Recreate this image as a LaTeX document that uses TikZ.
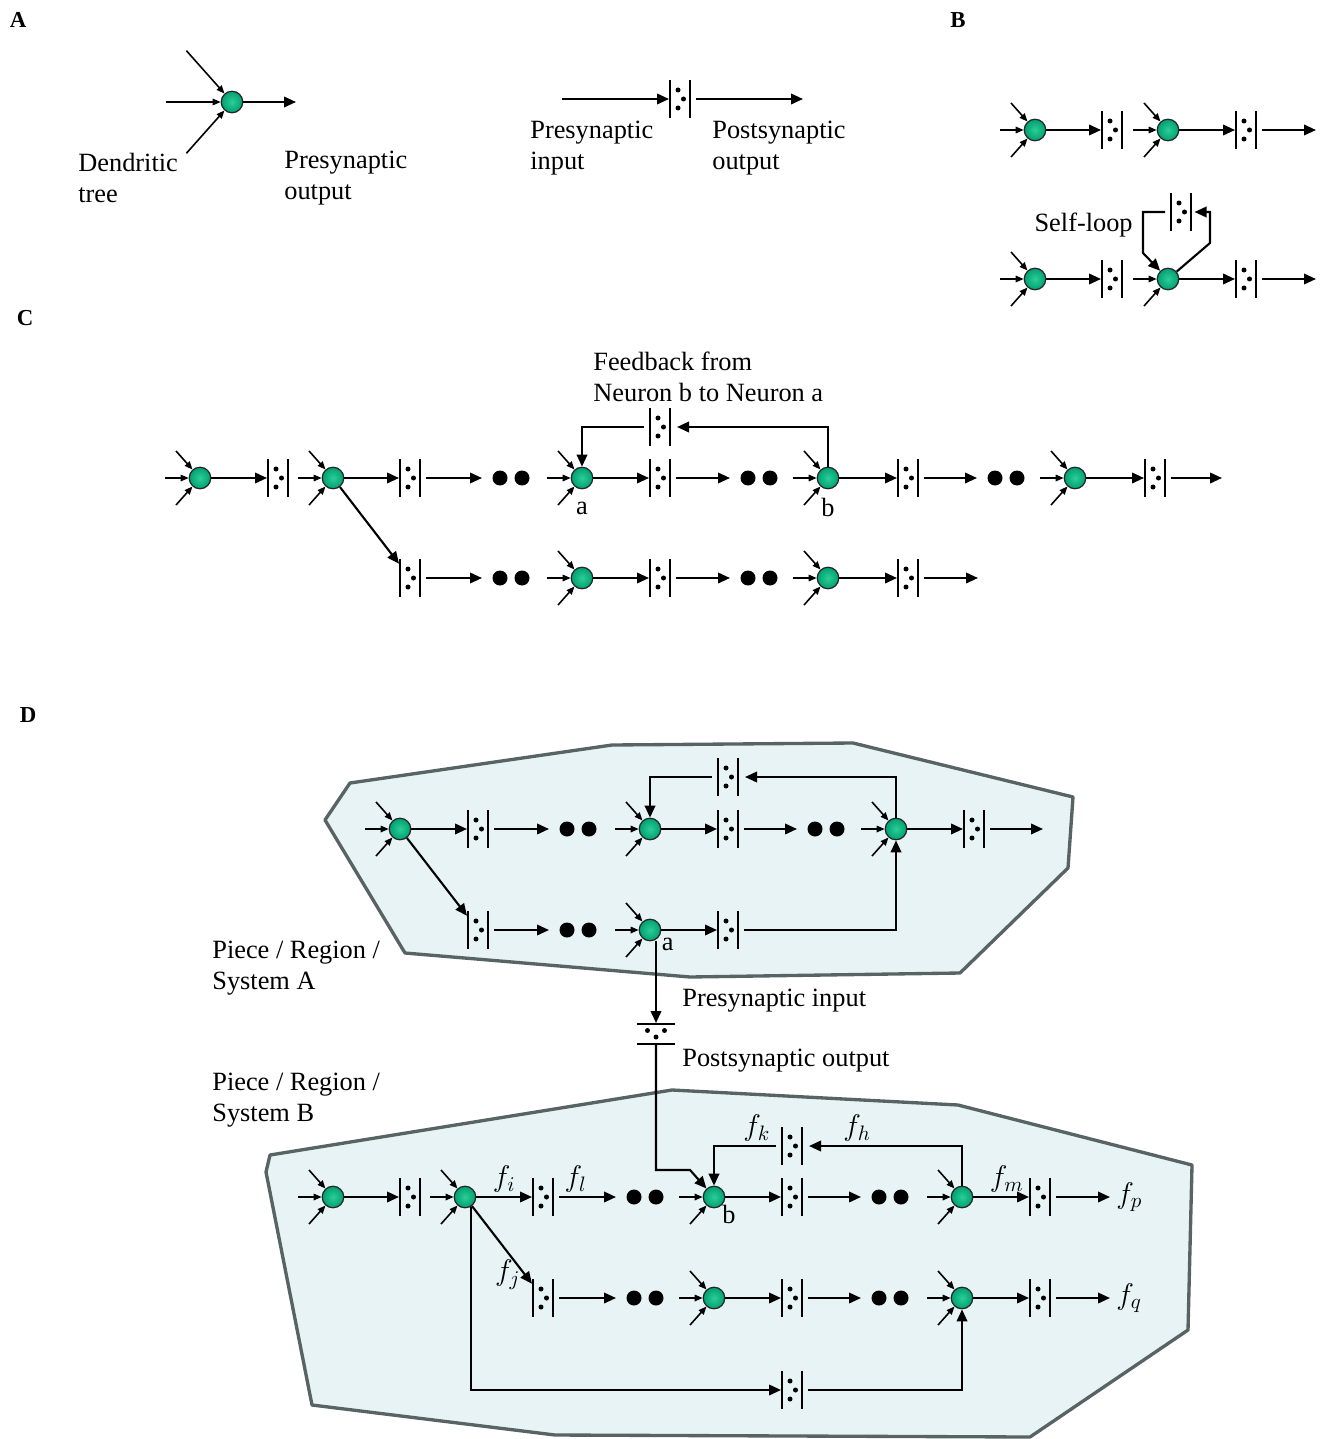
\documentclass[tikz,border=0pt]{standalone}
\usepackage{fix-cm}
\usepackage{amsmath}
\usepackage{fontspec}
\setmainfont{Liberation Serif}
\usepackage{xcolor}
\usepackage{tikz}
\usetikzlibrary{arrows.meta,positioning,calc}

\definecolor{neuronlight}{RGB}{45,205,150}
\definecolor{neuronmid}{RGB}{0,160,115}
\definecolor{neurondark}{RGB}{0,100,72}
\definecolor{regionfill}{RGB}{231,243,245}
\definecolor{regionline}{RGB}{88,100,100}
\pgfdeclareradialshading{neuronshade}{\pgfpoint{0bp}{0bp}}{color(0bp)=(neuronlight); color(25bp)=(neuronmid); color(50bp)=(neurondark)}

\newcommand{\inscale}{1}
\newcommand{\neuron}[3][1]{%
    \node[neuron] (#2) at (#3) {};
    \ifnum#1=1 \draw[inp] ($(#2)+(-24*\inscale,-27*\inscale)$) -- (#2);\fi
    \draw[inp] ($(#2)+(-35*\inscale,0)$) -- (#2);
    \draw[inp] ($(#2)+(-24*\inscale,27*\inscale)$) -- (#2);
}

\begin{document}
\begin{tikzpicture}[
            x=0.02cm, y=-0.02cm,
            >={Triangle[length=0.24cm,width=0.21cm]},
            neuron/.style={circle, minimum size=0.43cm, inner sep=0pt, draw=black!85, line width=0.7pt, shading=neuronshade},
            syn/.style={minimum width=0.44cm, minimum height=0.76cm, inner sep=0pt, outer sep=0pt,
                path picture={
                    \draw[line width=1.1pt] ([xshift=-0.2cm]path picture bounding box.north) -- ([xshift=-0.2cm]path picture bounding box.south)
                        ([xshift=0.2cm]path picture bounding box.north) -- ([xshift=0.2cm]path picture bounding box.south);
                    \fill ([shift={(-0.04cm,0.18cm)}]path picture bounding box.center) circle (0.05cm)
                        ([shift={(-0.04cm,-0.18cm)}]path picture bounding box.center) circle (0.05cm)
                        ([shift={(0.07cm,0cm)}]path picture bounding box.center) circle (0.05cm);
                }},
            vsyn/.style={minimum width=0.76cm, minimum height=0.44cm, inner sep=0pt, outer sep=0pt,
                path picture={
                    \draw[line width=1.1pt] ([yshift=0.2cm]path picture bounding box.west) -- ([yshift=0.2cm]path picture bounding box.east)
                        ([yshift=-0.2cm]path picture bounding box.west) -- ([yshift=-0.2cm]path picture bounding box.east);
                    \fill ([shift={(-0.17cm,0.07cm)}]path picture bounding box.center) circle (0.05cm)
                        ([shift={(0.17cm,0.07cm)}]path picture bounding box.center) circle (0.05cm)
                        ([shift={(0cm,-0.06cm)}]path picture bounding box.center) circle (0.05cm);
                }},
            dotsbox/.style={minimum width=1.16cm, minimum height=0.32cm, inner sep=0pt, outer sep=0pt,
                path picture={
                    \fill ([xshift=-0.22cm]path picture bounding box.center) circle (0.15cm)
                        ([xshift=0.22cm]path picture bounding box.center) circle (0.15cm);
                }},
            conn/.style={->, line width=1.2pt},
            fwd/.style={conn, shorten <=0.1cm},
            fb/.style={conn, shorten >=0.12cm},
            inp/.style={-{Triangle[length=0.16cm,width=0.13cm]}, line width=0.9pt},
            region/.style={fill=regionfill, draw=regionline, line width=1.9pt, line join=round},
            txt/.style={font=\fontsize{15}{18}\selectfont, align=left, inner sep=0pt},
            lab/.style={font=\fontsize{17}{20}\selectfont, inner sep=2pt},
            panel/.style={font=\fontsize{13}{15}\selectfont\bfseries, inner sep=0pt}
        ]
            \useasboundingbox (0,0) rectangle (1326,1439);

            \node[panel] (labA) at (18,20) {A};
            \renewcommand{\inscale}{1.9}
            \neuron{nA}{232,102}
            \renewcommand{\inscale}{1}
            \coordinate (nAend) at (296,102);
            \draw[conn] (nA) -- (nAend);
            \node[txt, anchor=west] (dend) at (78,178) {Dendritic\\tree};
            \node[txt, anchor=west] (preout) at (284,178) {Presynaptic\\output};
            \coordinate (sAstart) at (562,99);
            \node[syn] (sA) at (680,99) {};
            \coordinate (sAend) at (803,99);
            \draw[conn] (sAstart) -- (sA);
            \draw[fwd] (sA) -- (sAend);
            \node[txt, anchor=west] (prein) at (530,148) {Presynaptic\\input};
            \node[txt, anchor=west] (postout) at (712,148) {Postsynaptic\\output};

            \node[panel] (labB) at (958,20) {B};
            \neuron{nB1}{1035,130}
            \node[syn] (sB1) at (1112,130) {};
            \neuron{nB2}{1168,130}
            \node[syn] (sB2) at (1246,130) {};
            \coordinate (eB1) at (1316,130);
            \draw[conn] (nB1) -- (sB1);
            \draw[conn] (nB2) -- (sB2);
            \draw[fwd] (sB2) -- (eB1);
            \neuron{nB3}{1035,279}
            \node[syn] (sB3) at (1112,279) {};
            \neuron[0]{nB4}{1168,279}
            \node[syn] (sB4) at (1246,279) {};
            \coordinate (eB2) at (1316,279);
            \draw[conn] (nB3) -- (sB3);
            \draw[conn] (nB4) -- (sB4);
            \draw[fwd] (sB4) -- (eB2);
            \node[syn] (sBL) at (1181,212) {};
            \coordinate (loopR) at (1210,243);
            \coordinate (loopL) at (1143,253);
            \draw[conn, shorten >=0.05cm] (nB4) -- (loopR) |- (sBL);
            \draw[fwd] (sBL) -| (loopL) -- (nB4);
            \node[txt, anchor=east] (selfloop) at (1133,225) {Self-loop};

            \node[panel] (labC) at (25,318) {C};
            \node[txt, anchor=west] (fbtxt) at (593,377) {Feedback from\\Neuron b to Neuron a};
            \neuron{nC1}{200,478}
            \node[syn] (sC1) at (278,478) {};
            \neuron{nC2}{333,478}
            \node[syn] (sC2) at (410,478) {};
            \node[dotsbox] (dC1) at (511,478) {};
            \neuron{nCa}{582,478}
            \node[syn] (sC3) at (660,478) {};
            \node[dotsbox] (dC2) at (759,478) {};
            \neuron{nCb}{828,478}
            \node[syn] (sC4) at (908,478) {};
            \node[dotsbox] (dC3) at (1006,478) {};
            \neuron{nC5}{1075,478}
            \node[syn] (sC5) at (1155,478) {};
            \coordinate (eC1) at (1222,478);
            \draw[conn] (nC1) -- (sC1);
            \draw[conn] (nC2) -- (sC2);
            \draw[fwd] (sC2) -- (dC1);
            \draw[conn] (nCa) -- (sC3);
            \draw[fwd] (sC3) -- (dC2);
            \draw[conn] (nCb) -- (sC4);
            \draw[fwd] (sC4) -- (dC3);
            \draw[conn] (nC5) -- (sC5);
            \draw[fwd] (sC5) -- (eC1);
            \node[txt, below=0.24cm of nCa] (labCa) {a};
            \node[txt, below=0.16cm of nCb] (labCb) {b};
            \node[syn] (sCf) at (660,427) {};
            \draw[fb] (nCb) |- (sCf);
            \draw[fwd] (sCf) -| (nCa);
            \node[syn] (sC6) at (410,578) {};
            \node[dotsbox] (dC4) at (511,578) {};
            \neuron{nC7}{582,578}
            \node[syn] (sC7) at (660,578) {};
            \node[dotsbox] (dC5) at (759,578) {};
            \neuron{nC8}{828,578}
            \node[syn] (sC8) at (908,578) {};
            \coordinate (eC2) at (978,578);
            \draw[conn] (nC2) -- (sC6);
            \draw[fwd] (sC6) -- (dC4);
            \draw[conn] (nC7) -- (sC7);
            \draw[fwd] (sC7) -- (dC5);
            \draw[conn] (nC8) -- (sC8);
            \draw[fwd] (sC8) -- (eC2);

            \node[panel] (labD) at (28,715) {D};
            \draw[region] (325,820) -- (350,783) -- (612,745) -- (853,743) -- (1073,797) -- (1068,868) -- (960,973) -- (690,977) -- (405,953) -- cycle;
            \draw[region] (270,1155) -- (672,1090) -- (958,1105) -- (1192,1165) -- (1188,1330) -- (1030,1437) -- (555,1435) -- (312,1405) -- (266,1172) -- cycle;
            \node[txt, anchor=west] (sysA) at (212,968) {Piece / Region /\\System A};
            \node[txt, anchor=west] (sysB) at (212,1100) {Piece / Region /\\System B};

            \neuron{nD1}{400,829}
            \node[syn] (sD1) at (478,829) {};
            \node[dotsbox] (dD1) at (578,829) {};
            \neuron{nD2}{650,829}
            \node[syn] (sD2) at (728,829) {};
            \node[dotsbox] (dD2) at (826,829) {};
            \neuron{nD3}{896,829}
            \node[syn] (sD3) at (974,829) {};
            \coordinate (eD1) at (1043,829);
            \draw[conn] (nD1) -- (sD1);
            \draw[fwd] (sD1) -- (dD1);
            \draw[conn] (nD2) -- (sD2);
            \draw[fwd] (sD2) -- (dD2);
            \draw[conn] (nD3) -- (sD3);
            \draw[fwd] (sD3) -- (eD1);
            \node[syn] (sDf) at (728,777) {};
            \draw[fb] (nD3) |- (sDf);
            \draw[fwd] (sDf) -| (nD2);
            \node[syn] (sD4) at (478,930) {};
            \node[dotsbox] (dD3) at (578,930) {};
            \neuron{nDa}{650,930}
            \node[syn] (sD5) at (728,930) {};
            \draw[conn] (nD1) -- (sD4);
            \draw[fwd] (sD4) -- (dD3);
            \draw[conn] (nDa) -- (sD5);
            \draw[fwd] (sD5) -| (nD3);
            \node[txt, anchor=north west, xshift=2pt] (labDa) at (nDa.south east) {a};

            \node[vsyn] (vs) at (656,1034) {};
            \draw[conn] (nDa.south -| vs) -- (vs);
            \node[txt, anchor=west] (pretxt) at (682,1001) {Presynaptic input};
            \node[txt, anchor=west] (posttxt) at (682,1061) {Postsynaptic output};
            \coordinate (bendB) at (690,1170);

            \neuron{nE1}{333,1197}
            \node[syn] (sE1) at (410,1197) {};
            \neuron{nE2}{465,1197}
            \node[syn] (sE2) at (543,1197) {};
            \node[dotsbox] (dE1) at (645,1197) {};
            \neuron[0]{nDb}{714,1197}
            \node[syn] (sE3) at (792,1197) {};
            \node[dotsbox] (dE2) at (890,1197) {};
            \neuron{nE4}{962,1197}
            \node[syn] (sE4) at (1040,1197) {};
            \coordinate (eE1) at (1110,1197);
            \draw[conn] (vs) |- (bendB) -- (nDb);
            \draw[conn] (nE1) -- (sE1);
            \draw[conn] (nE2) -- node[lab, above] {$f_i$} (sE2);
            \draw[fwd] (sE2) -- node[lab, above, pos=0.35] {$f_l$} (dE1);
            \draw[conn] (nDb) -- (sE3);
            \draw[fwd] (sE3) -- (dE2);
            \draw[conn] (nE4) -- node[lab, above, pos=0.6] {$f_m$} (sE4);
            \draw[fwd] (sE4) -- (eE1);
            \node[lab, right=0.05cm of eE1] (fp) {$f_p$};
            \node[txt, anchor=north west] (labDb) at (nDb.south east) {b};
            \node[syn] (sEf) at (792,1146) {};
            \draw[fb] (nE4) |- node[lab, above, pos=0.83] {$f_h$} (sEf);
            \draw[fwd] (sEf) -| node[lab, above, pos=0.18] {$f_k$} (nDb);

            \node[syn] (sE5) at (543,1298) {};
            \node[dotsbox] (dE3) at (645,1298) {};
            \neuron{nE6}{714,1298}
            \node[syn] (sE6) at (792,1298) {};
            \node[dotsbox] (dE4) at (890,1298) {};
            \neuron{nE7}{962,1298}
            \node[syn] (sE7) at (1040,1298) {};
            \coordinate (eE2) at (1110,1298);
            \draw[conn] (nE2) -- node[lab, left, pos=0.88] {$f_j$} (sE5);
            \draw[fwd] (sE5) -- (dE3);
            \draw[conn] (nE6) -- (sE6);
            \draw[fwd] (sE6) -- (dE4);
            \draw[conn] (nE7) -- (sE7);
            \draw[fwd] (sE7) -- (eE2);
            \node[lab, right=0.05cm of eE2] (fq) {$f_q$};

            \node[syn] (sE8) at (792,1390) {};
            \draw[conn] (nE2.-60) |- (sE8);
            \draw[fwd] (sE8) -| (nE7);
        \end{tikzpicture}
\end{document}
